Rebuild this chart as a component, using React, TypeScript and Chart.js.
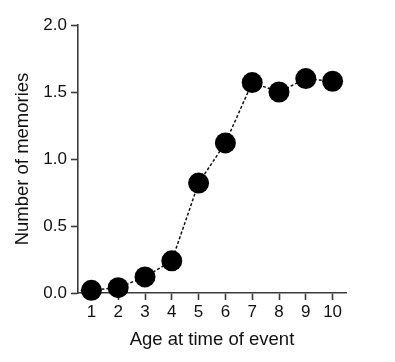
import React, { useEffect, useRef } from "react";
import { Chart, registerables } from "chart.js";

Chart.register(...registerables);

const ages = [1, 2, 3, 4, 5, 6, 7, 8, 9, 10];
const memories = [0.02, 0.04, 0.12, 0.24, 0.82, 1.12, 1.57, 1.5, 1.6, 1.58];
const yTicks = [0, 0.5, 1.0, 1.5, 2.0];
const xTitle = "Age at time of event";
const yTitle = "Number of memories";

const W = 395;
const H = 362;
const FONT = "'Liberation Sans', Arial, sans-serif";
const AXIS = "#3a3a3a";
const TEXT = "#111111";

export default function App() {
  const ref = useRef<HTMLCanvasElement | null>(null);

  useEffect(() => {
    if (!ref.current) return;
    const chart = new Chart(ref.current, {
      type: "scatter",
      data: {
        datasets: [
          {
            data: ages.map((a, i) => ({ x: a, y: memories[i] })),
            showLine: true,
            borderColor: "#111",
            borderWidth: 1.5,
            borderDash: [3, 2],
            pointRadius: 10.5,
            pointBackgroundColor: "#000",
            pointBorderColor: "#000",
            pointBorderWidth: 0,
            clip: false,
          } as any,
        ],
      },
      options: {
        responsive: false,
        animation: false,
        devicePixelRatio: 1,
        layout: { padding: { left: 0, top: 25, right: 49, bottom: 0 } },
        plugins: {
          legend: { display: false },
          tooltip: { enabled: false },
        },
        scales: {
          x: {
            type: "linear",
            min: 0.5,
            max: 10.5,
            afterBuildTicks: (s: any) => {
              s.ticks = ages.map((v) => ({ value: v }));
            },
            afterFit: (s: any) => {
              s.height = 69;
            },
            grid: {
              drawOnChartArea: false,
              drawTicks: true,
              tickLength: 7,
              tickWidth: 1.6,
              tickColor: AXIS,
              color: AXIS,
            },
            border: { display: true, color: AXIS, width: 1.6 },
            ticks: {
              color: TEXT,
              font: { family: FONT, size: 17 },
              padding: 2.5,
              maxRotation: 0,
              autoSkip: false,
            },
            title: {
              display: true,
              text: xTitle,
              color: TEXT,
              font: { family: FONT, size: 18.5 },
              padding: { top: 0, bottom: 11 },
            },
          },
          y: {
            type: "linear",
            min: 0,
            max: 2,
            afterBuildTicks: (s: any) => {
              s.ticks = yTicks.map((v) => ({ value: v }));
            },
            afterFit: (s: any) => {
              s.width = 78;
            },
            grid: {
              drawOnChartArea: false,
              drawTicks: true,
              tickLength: 7,
              tickWidth: 1.6,
              tickColor: AXIS,
              color: AXIS,
            },
            border: { display: true, color: AXIS, width: 1.6 },
            ticks: {
              color: TEXT,
              font: { family: FONT, size: 17 },
              padding: 4,
              callback: (v: any) => Number(v).toFixed(1),
            },
            title: {
              display: true,
              text: yTitle,
              color: TEXT,
              font: { family: FONT, size: 18.5 },
              padding: { top: 12.3, bottom: 0 },
            },
          },
        },
      },
    });
    return () => chart.destroy();
  }, []);

  return (
    <div style={{ position: "absolute", left: 0, top: 0, width: W, height: H, background: "#fff" }}>
      <canvas ref={ref} width={W} height={H} style={{ width: W, height: H, display: "block" }} />
    </div>
  );
}
